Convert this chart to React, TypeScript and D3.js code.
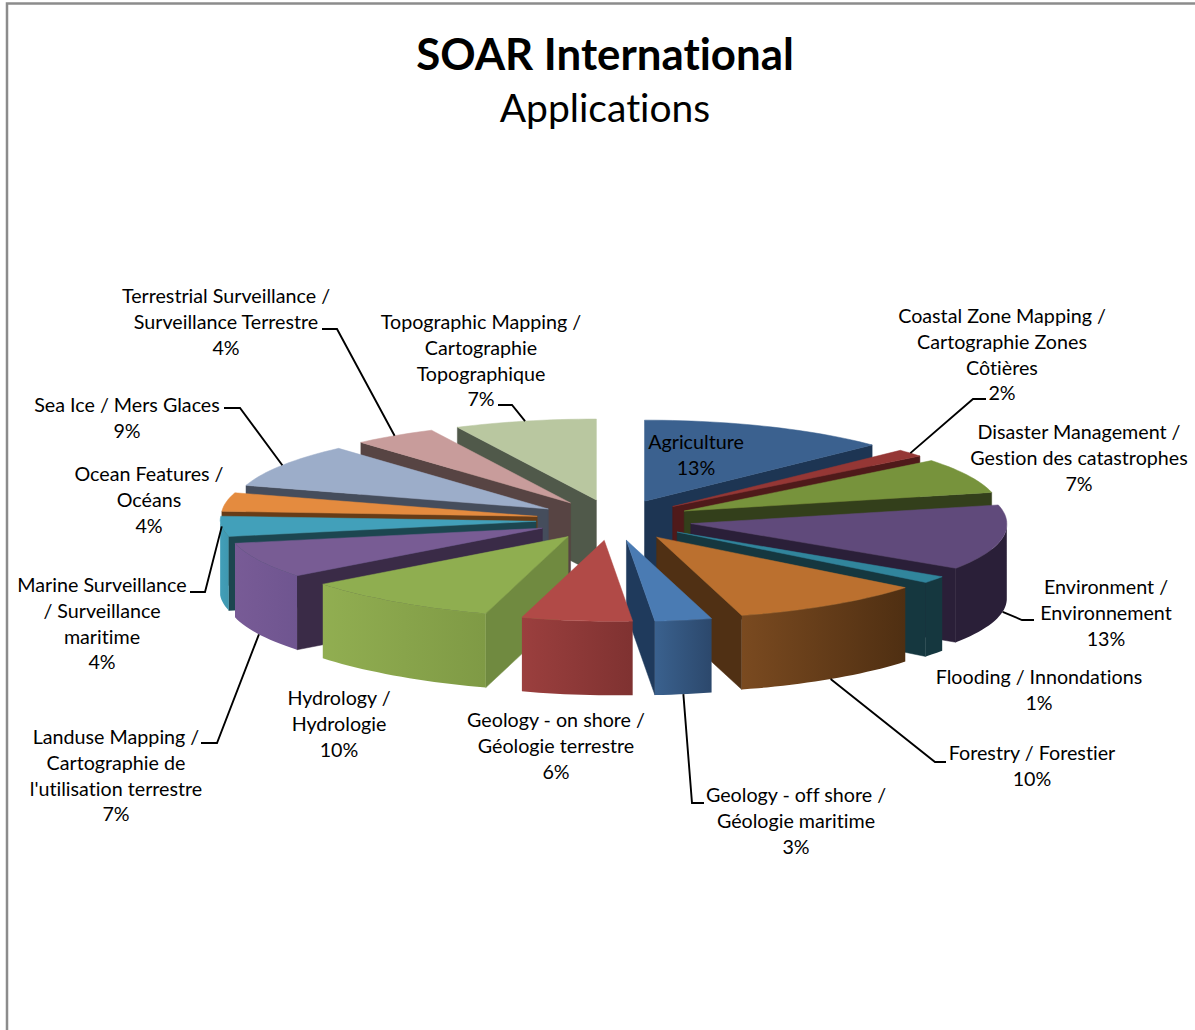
import React from "react";
import * as d3 from "d3";

const categories = [
  ["Agriculture"],
  ["Coastal Zone Mapping /", "Cartographie Zones", "Côtières"],
  ["Disaster Management /", "Gestion des catastrophes"],
  ["Environment /", "Environnement"],
  ["Flooding / Innondations"],
  ["Forestry / Forestier"],
  ["Geology - off shore /", "Géologie maritime"],
  ["Geology - on shore /", "Géologie terrestre"],
  ["Hydrology /", "Hydrologie"],
  ["Landuse Mapping /", "Cartographie de", "l'utilisation terrestre"],
  ["Marine Surveillance", "/ Surveillance", "maritime"],
  ["Ocean Features /", "Océans"],
  ["Sea Ice / Mers Glaces"],
  ["Terrestrial Surveillance /", "Surveillance Terrestre"],
  ["Topographic Mapping /", "Cartographie", "Topographique"],
];
// shares read from the slice boundaries; the labels show them rounded
const values = [12.8, 1.5, 7, 13, 1.4, 10.2, 3.1, 6, 10, 7, 4, 3.7, 8.75, 4.3, 7.25];

const topColors = ["#3B618F", "#953735", "#77933C", "#604A7B", "#31859C", "#BB702F", "#4A7BB3", "#B14A47", "#8FAE50", "#785C94", "#42A0BA", "#E48B3F", "#9CADC9", "#C89C9B", "#B9C7A0"];
const wallColors = ["#1D3553", "#4F1A1A", "#333F1B", "#2A1F38", "#15373F", "#503014", "#1F3A5C", "#7F3231", "#708A40", "#3A2B47", "#1C4650", "#673C17", "#454D5C", "#574443", "#50594A"];
const outerLeft = ["#1D3553", "#4F1A1A", "#333F1B", "#2A1F38", "#15373F", "#7A4A20", "#3A618E", "#9B3F3E", "#91AE51", "#785B96", "#429FB9", "#C97A36", "#8090A8", "#A88080", "#9AA688"];
const outerRight = ["#1D3553", "#4F1A1A", "#333F1B", "#2A1F38", "#15373F", "#4F2F12", "#2C486C", "#7F3231", "#7F9A45", "#6F5590", "#3F97AF", "#C97A36", "#8090A8", "#A88080", "#9AA688"];

// label layout: centre x, first line centre y
const labelCx = [696, 1002, 1079, 1106, 1039, 1032, 796, 556, 339, 116, 102, 149, 127, 226, 481];
const labelCy = [442.5, 316.5, 432.5, 587.5, 677.5, 753.5, 795.5, 720.5, 698.5, 737.5, 585.5, 474.5, 405.5, 296.5, 322.5];
const lineGap = 25.6;

// leader lines: slice index, elbow points next to the label; last point comes from the slice
const leaders: { i: number; pts: [number, number][] }[] = [
  { i: 1, pts: [[986, 399], [973, 399]] },
  { i: 3, pts: [[1034, 620], [1022, 620]] },
  { i: 5, pts: [[946, 762], [935, 762]] },
  { i: 6, pts: [[704, 803], [692, 803]] },
  { i: 9, pts: [[201, 743], [217, 743]] },
  { i: 10, pts: [[190, 592], [205, 592]] },
  { i: 12, pts: [[224, 408], [240, 408]] },
  { i: 13, pts: [[322, 329], [337, 329]] },
  { i: 14, pts: [[498, 405], [512, 405]] },
];

const W = 1195, H = 1030;
const cx = 614, cy = 520;
const explodeX = 78, explodeY = 20.5;
const Rx = 316, Ry = 81, depth = 74;
const FONT = "Lato, Carlito, 'Open Sans', sans-serif";

const arcs = d3.pie<number>().sort(null).startAngle(0).endAngle(2 * Math.PI)(values);

type Pt = [number, number];
const apex = (mid: number): Pt => [cx + explodeX * Math.sin(mid), cy - explodeY * Math.cos(mid)];
const outer = (o: Pt, a: number): Pt => {
  const front = Math.max(0, -Math.cos(a));
  return [
    o[0] + (Rx - 16 * front ** 4) * Math.sin(a) + (10 - 6 * Math.sin(a)) * front,
    o[1] - Ry * Math.cos(a),
  ];
};
const line = d3.line<Pt>();
const down = (p: Pt): Pt => [p[0], p[1] + depth];

const sample = (a0: number, a1: number) => {
  const n = Math.max(2, Math.ceil((a1 - a0) / 0.03));
  return d3.range(n + 1).map((k) => a0 + ((a1 - a0) * k) / n);
};

const slices = arcs.map((d) => {
  const mid = (d.startAngle + d.endAngle) / 2;
  return { i: d.index, a0: d.startAngle, a1: d.endAngle, mid, o: apex(mid) };
});
const order = d3.sort(slices, (s) => -Math.cos(s.mid));

export default function App() {
  return (
    <svg width={W} height={H} style={{ position: "fixed", left: 0, top: 0, background: "#fff" }}>
      <defs>
        {slices.map((s) => (
          <linearGradient key={s.i} id={`g${s.i}`} x1="0" x2="1" y1="0" y2="0">
            <stop offset="0" stopColor={outerLeft[s.i]} />
            <stop offset="1" stopColor={outerRight[s.i]} />
          </linearGradient>
        ))}
      </defs>
      <path d="M7,1030V3.5H1195" fill="none" stroke="#8c8c8c" strokeWidth={2.5} />
      <text x={605} y={70} textAnchor="middle" fontFamily={FONT} fontWeight={700} fontSize={43.8} fill="#000" style={{ fontVariantLigatures: "none" }}>SOAR International</text>
      <text x={605} y={122} textAnchor="middle" fontFamily={FONT} fontSize={39} fill="#000" style={{ fontVariantLigatures: "none" }}>Applications</text>

      {order.map((s) => {
        const { i, a0, a1, o } = s;
        const arcPts = sample(a0, a1).map((a) => outer(o, a));
        const parts: React.ReactNode[] = [];
        const wall = (a: number, key: string) => {
          const p = outer(o, a);
          parts.push(<path key={key} d={line([o, p, down(p), down(o)])! + "Z"} fill={wallColors[i]} stroke={wallColors[i]} strokeWidth={0.5} />);
        };
        if (Math.sin(a0) < -1e-6) wall(a0, "w0");
        if (Math.sin(a1) > 1e-6) wall(a1, "w1");
        const fa0 = Math.max(a0, Math.PI / 2), fa1 = Math.min(a1, (3 * Math.PI) / 2);
        if (fa1 > fa0) {
          const top = sample(fa0, fa1).map((a) => outer(o, a));
          parts.push(<path key="f" d={line([...top, ...top.slice().reverse().map(down)])! + "Z"} fill={`url(#g${i})`} />);
        }
        parts.push(<path key="t" d={line([o, ...arcPts])! + "Z"} fill={topColors[i]} stroke={topColors[i]} strokeWidth={0.5} />);
        return <g key={i}>{parts}</g>;
      })}

      {leaders.map((l) => {
        const s = slices[l.i];
        let end = outer(s.o, s.mid);
        if (Math.cos(s.mid) < -0.1) end = down(end);
        return <path key={l.i} d={line([...l.pts, end])!} fill="none" stroke="#000" strokeWidth={1.9} />;
      })}

      {categories.map((lines, i) => (
        <text key={i} textAnchor="middle" fontFamily={FONT} fontSize={19.7} fill="#000" style={{ fontVariantLigatures: "none" }}>
          {[...lines, `${Math.round(values[i])}%`].map((t, k) => (
            <tspan key={k} x={labelCx[i]} y={labelCy[i] + k * lineGap} dy="0.35em">{t}</tspan>
          ))}
        </text>
      ))}
    </svg>
  );
}
